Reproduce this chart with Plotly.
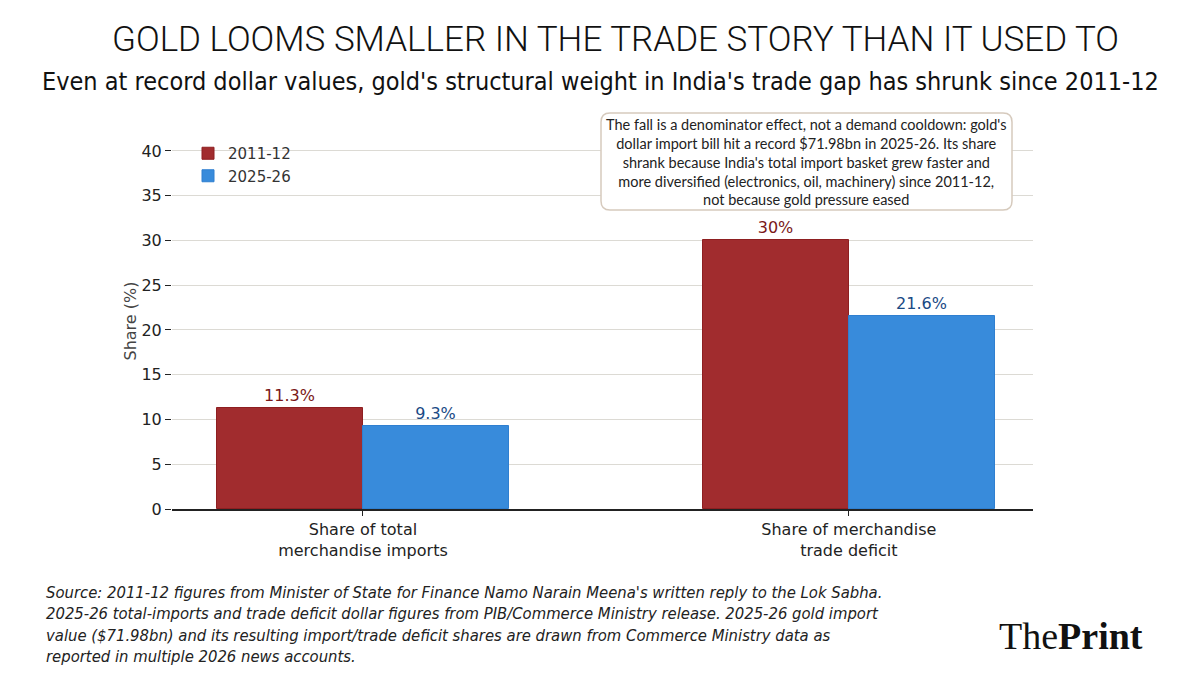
import plotly.graph_objects as go

categories = ["Share of total<br>merchandise imports", "Share of merchandise<br>trade deficit"]
series_names = ["2011-12", "2025-26"]
values_2011 = [11.3, 30.0]
values_2025 = [9.3, 21.6]
label_2011 = ["11.3%", "30%"]
label_2025 = ["9.3%", "21.6%"]
yticks = [0, 5, 10, 15, 20, 25, 30, 35, 40]

RED = "#A12C2E"
BLUE = "#388BDB"
W = 0.3
xpos = list(range(len(categories)))

# page offset (browser body margin)
OFF = 8
PW, PH = 1200, 675
L, R, T, B = 172 - OFF, PW - (1033 - OFF), 133 - OFF, PH - (509 - OFF)

def px(xp):
    return (xp - OFF - L) / (PW - L - R)

def py(yp):
    return (PH - B - (yp - OFF)) / (PH - T - B)

fig = go.Figure()
fig.add_trace(go.Bar(
    x=[p - W / 2 for p in xpos], y=values_2011, width=W, name=series_names[0],
    marker=dict(color=RED, line=dict(color="#8E1F21", width=1)),
    text=label_2011, textposition="outside", cliponaxis=False,
    textfont=dict(color="#7A1818", size=16, family="DejaVu Sans"),
))
fig.add_trace(go.Bar(
    x=[p + W / 2 for p in xpos], y=values_2025, width=W, name=series_names[1],
    marker=dict(color=BLUE, line=dict(color="#2F7FD0", width=1)),
    text=label_2025, textposition="outside", cliponaxis=False,
    textfont=dict(color="#1A4A85", size=16, family="DejaVu Sans"),
))

fig.update_layout(
    width=PW, height=PH,
    paper_bgcolor="white", plot_bgcolor="white",
    margin=dict(l=L, r=R, t=T, b=B),
    barmode="overlay", bargap=0,
    showlegend=True,
    legend=dict(x=px(188), y=py(137), xanchor="left", yanchor="top",
                font=dict(family="DejaVu Sans", size=15, color="#333333"),
                bgcolor="rgba(255,255,255,0)", tracegroupgap=4),
    font=dict(family="DejaVu Sans", color="#222222"),
)
fig.update_xaxes(
    range=[-0.393, 1.379], tickmode="array", tickvals=xpos, ticktext=categories,
    showgrid=False, zeroline=False, showline=True, linecolor="#222222", linewidth=1.5,
    ticks="outside", ticklen=5, tickcolor="#222222",
    tickfont=dict(size=16, color="#222222", family="DejaVu Sans"),
)
fig.update_yaxes(
    range=[0, 42], tickmode="array", tickvals=yticks,
    showgrid=True, gridcolor="#DCDAD4", gridwidth=1, zeroline=False, showline=False,
    ticks="outside", ticklen=6, tickcolor="#222222",
    tickfont=dict(size=16, color="#222222", family="DejaVu Sans"),
    title=dict(text="Share (%)", font=dict(size=16, color="#444444", family="DejaVu Sans"), standoff=0),
)

# Title and subtitle
fig.add_annotation(xref="paper", yref="paper", x=px(615), y=py(40), xanchor="center", yanchor="middle",
                   text="GOLD LOOMS SMALLER IN THE TRADE STORY THAN IT USED TO", showarrow=False,
                   font=dict(family="Roboto, sans-serif", size=35, color="#111111", weight=300))
fig.add_annotation(xref="paper", yref="paper", x=px(600), y=py(82), xanchor="center", yanchor="middle",
                   text="Even at record dollar values, gold's structural weight in India's trade gap has shrunk since 2011-12",
                   showarrow=False,
                   font=dict(family="DejaVu Sans Condensed, sans-serif", size=25, color="#111111"))

# Callout box (rounded rectangle)
bx0, bx1, by0, by1, rad = 601, 1012, 113, 210, 9
X0, X1, Y0, Y1 = px(bx0), px(bx1), py(by1), py(by0)
rx = rad / (PW - L - R)
ry = rad / (PH - T - B)
path = (f"M {X0+rx},{Y0} L {X1-rx},{Y0} Q {X1},{Y0} {X1},{Y0+ry} "
        f"L {X1},{Y1-ry} Q {X1},{Y1} {X1-rx},{Y1} "
        f"L {X0+rx},{Y1} Q {X0},{Y1} {X0},{Y1-ry} "
        f"L {X0},{Y0+ry} Q {X0},{Y0} {X0+rx},{Y0} Z")
fig.add_shape(type="path", path=path, xref="paper", yref="paper",
              fillcolor="white", line=dict(color="#D6CABD", width=1.5), layer="above")
fig.add_annotation(xref="paper", yref="paper", x=px(806.5), y=py(161.5), xanchor="center", yanchor="middle",
                   text=("The fall is a denominator effect, not a demand cooldown: gold's<br>"
                         "dollar import bill hit a record $71.98bn in 2025-26. Its share<br>"
                         "shrank because India's total import basket grew faster and<br>"
                         "more diversified (electronics, oil, machinery) since 2011-12,<br>"
                         "not because gold pressure eased"),
                   showarrow=False, align="center",
                   font=dict(family="Lato, sans-serif", size=14.5, color="#222222"))

# Source
fig.add_annotation(xref="paper", yref="paper", x=px(44), y=py(581), xanchor="left", yanchor="top",
                   text=("<i>Source: 2011-12 figures from Minister of State for Finance Namo Narain Meena's written reply to the Lok Sabha.<br>"
                         "2025-26 total-imports and trade deficit dollar figures from PIB/Commerce Ministry release. 2025-26 gold import<br>"
                         "value ($71.98bn) and its resulting import/trade deficit shares are drawn from Commerce Ministry data as<br>"
                         "reported in multiple 2026 news accounts.</i>"),
                   showarrow=False, align="left",
                   font=dict(family="DejaVu Sans Condensed, sans-serif", size=16.5, color="#222222"))

# Logo
fig.add_annotation(xref="paper", yref="paper", x=px(1071), y=py(636), xanchor="center", yanchor="middle",
                   text="The<b>Print</b>", showarrow=False,
                   font=dict(family="Liberation Serif, serif", size=38, color="#111111"))

fig.write_html("out.html")
